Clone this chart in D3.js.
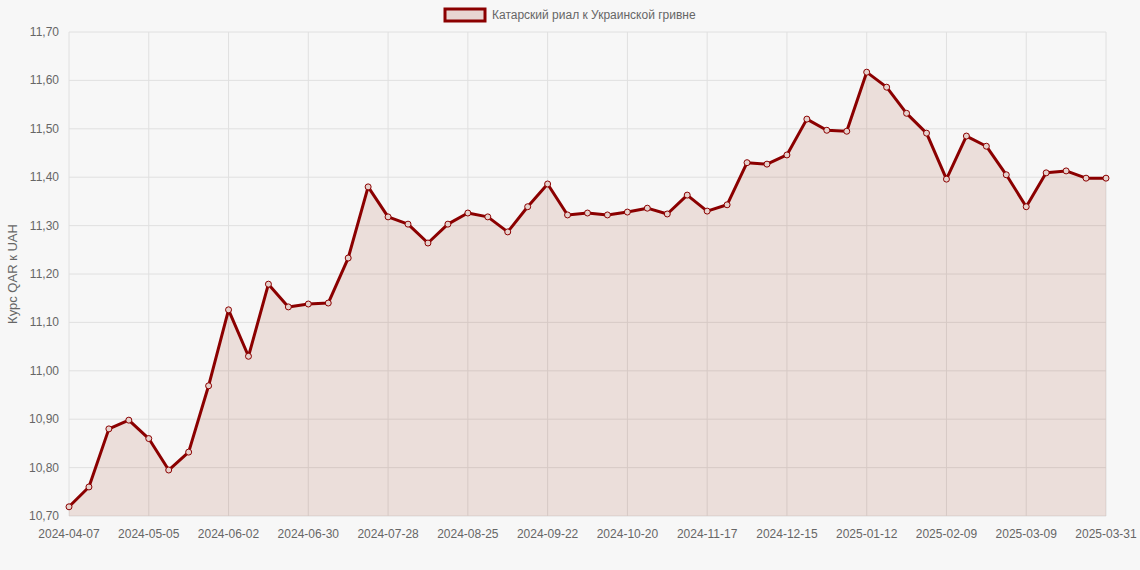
<!DOCTYPE html>
<html><head><meta charset="utf-8">
<script src="https://cdn.jsdelivr.net/npm/d3@7"></script>
<style>body{margin:0;background:#f7f7f7;font-family:"Liberation Sans",Arial,sans-serif}</style>
</head><body><svg id="c" width="1140" height="570"></svg>
<script>
const labels = [];
for (let k = 0; k < 52; k++) {
  const d = new Date(Date.UTC(2024, 3, 7 + 7 * k));
  labels.push(d.toISOString().slice(0, 10));
}
labels.push('2025-03-31');
const values = [10.719,10.76,10.88,10.898,10.86,10.795,10.832,10.969,11.126,11.03,
  11.179,11.132,11.138,11.14,11.233,11.38,11.318,11.303,11.264,11.303,
  11.326,11.318,11.287,11.339,11.386,11.322,11.326,11.322,11.328,11.336,
  11.324,11.363,11.330,11.343,11.43,11.427,11.446,11.52,11.497,11.495,
  11.617,11.586,11.532,11.491,11.396,11.485,11.464,11.405,11.339,11.409,
  11.413,11.398,11.398];
const yTicks = d3.range(10.7, 11.7001, 0.1);
const seriesName = 'Катарский риал к Украинской гривне';

const svg = d3.select('#c');
const m = {l: 69, r: 1106, t: 32, b: 516};
const x = d3.scalePoint().domain(labels).range([m.l, m.r]);
const y = d3.scaleLinear().domain([10.7, 11.7]).range([m.b, m.t]);
const fmt = v => d3.format('.2f')(v).replace('.', ',');

// grid
svg.append('g').selectAll('line').data(yTicks).join('line')
  .attr('x1', m.l).attr('x2', m.r).attr('y1', d => y(d)).attr('y2', d => y(d))
  .attr('stroke', '#e0e0e0');
const xTickLabels = labels.filter((d, i) => i % 4 === 0 || i === labels.length - 1);
svg.append('g').selectAll('line').data(xTickLabels).join('line')
  .attr('x1', d => x(d)).attr('x2', d => x(d)).attr('y1', m.t).attr('y2', m.b)
  .attr('stroke', '#e0e0e0');

// axes text
svg.append('g').selectAll('text').data(yTicks).join('text')
  .attr('x', m.l - 10).attr('y', d => y(d) + 4).attr('text-anchor', 'end')
  .attr('font-size', 12).attr('fill', '#666').text(fmt);
svg.append('g').selectAll('text').data(xTickLabels).join('text')
  .attr('x', d => x(d)).attr('y', m.b + 22).attr('text-anchor', 'middle')
  .attr('font-size', 12).attr('fill', '#666').text(d => d);
svg.append('text').attr('transform', `translate(17,${(m.t + m.b) / 2}) rotate(-90)`)
  .attr('text-anchor', 'middle').attr('font-size', 13).attr('fill', '#666')
  .text('Курс QAR к UAH');

// area + line
const pts = labels.map((d, i) => [d, values[i]]);
svg.append('path').datum(pts)
  .attr('d', d3.area().x(d => x(d[0])).y0(m.b).y1(d => y(d[1])))
  .attr('fill', 'rgba(150,40,10,0.12)');
svg.append('path').datum(pts)
  .attr('d', d3.line().x(d => x(d[0])).y(d => y(d[1])))
  .attr('fill', 'none').attr('stroke', '#8b0000').attr('stroke-width', 3)
  .attr('stroke-linejoin', 'round');
svg.append('g').selectAll('circle').data(pts).join('circle')
  .attr('cx', d => x(d[0])).attr('cy', d => y(d[1])).attr('r', 3)
  .attr('fill', '#e6d2cd').attr('stroke', '#8b0000').attr('stroke-width', 1);

// legend
const lg = svg.append('g');
lg.append('rect').attr('x', 445).attr('y', 9).attr('width', 40).attr('height', 12)
  .attr('fill', '#e8d6d2').attr('stroke', '#8b0000').attr('stroke-width', 3);
lg.append('text').attr('x', 492).attr('y', 19).attr('font-size', 12).attr('fill', '#666')
  .text(seriesName);
</script></body></html>
